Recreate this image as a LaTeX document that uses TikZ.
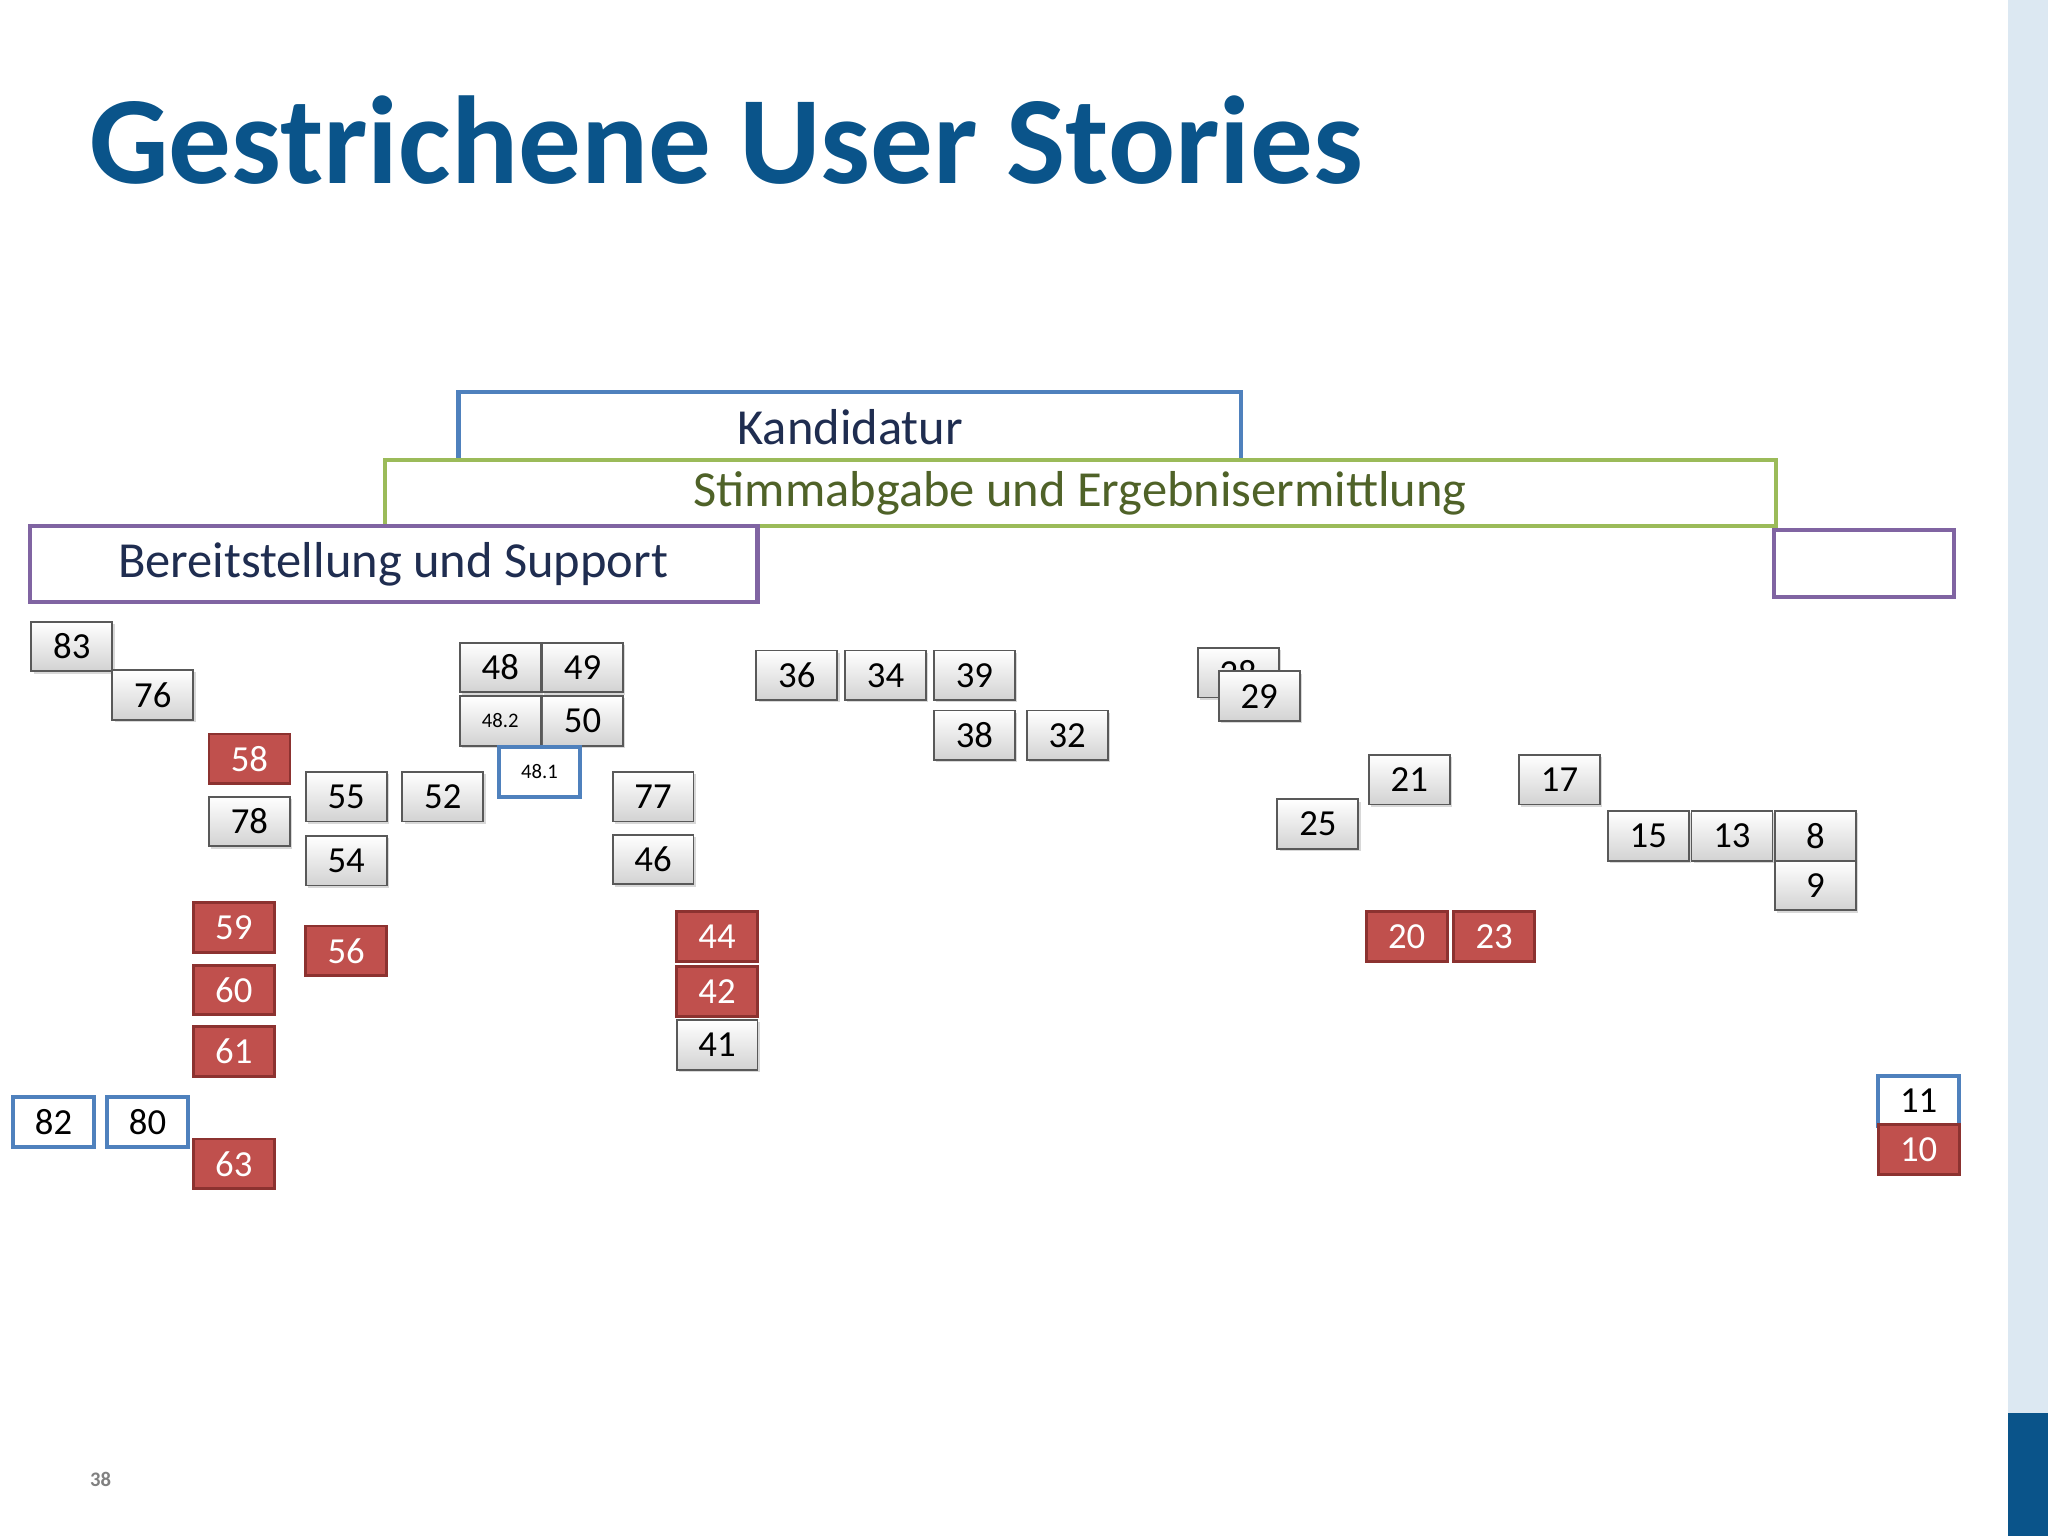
\documentclass[tikz,border=0pt]{standalone}
\usepackage{fontspec}
\setmainfont{Carlito}
\usetikzlibrary{shadows}
\definecolor{titleblue}{RGB}{10,84,138}
\definecolor{kblue}{RGB}{79,129,189}
\definecolor{sgreen}{RGB}{155,187,89}
\definecolor{stext}{RGB}{79,98,40}
\definecolor{bpurple}{RGB}{128,100,162}
\definecolor{btext}{RGB}{31,45,80}
\definecolor{sred}{RGB}{192,80,77}
\definecolor{sredd}{RGB}{140,50,48}
\definecolor{band}{RGB}{220,232,242}
\tikzset{
 card/.style={minimum width=1.24cm,minimum height=0.76cm,inner sep=0pt,font=\fontsize{16}{16}\selectfont,line width=0.8pt},
 gcard/.style={card,draw=gray!70!black,top color=white,bottom color=gray!35,drop shadow={opacity=0.3,shadow xshift=1pt,shadow yshift=-1pt}},
 rcard/.style={card,draw=sredd,fill=sred,text=white,line width=1.2pt},
 bcard/.style={card,draw=kblue,fill=white,line width=1.6pt},
 frame/.style={line width=1.8pt},
 ftext/.style={font=\fontsize{22}{22}\selectfont}
}
\begin{document}
\begin{tikzpicture}[x=0.02cm,y=-0.02cm]
\useasboundingbox (0,0) rectangle (1568,1176);
\fill[white] (0,0) rectangle (1568,1176);
\fill[band] (1537,0) rectangle (1568,1176);
\fill[titleblue] (1537,1082) rectangle (1568,1176);
\node[anchor=west,text=titleblue,font=\fontsize{54.5}{54.5}\selectfont\bfseries] (title) at (62,107) {Gestrichene User Stories};
\node[text=gray,font=\fontsize{9}{9}\selectfont\bfseries] (pg) at (77,1133) {38};
% frames
\draw[frame,kblue,fill=white] (351,352) -- (351,300) -- (950,300) -- (950,352);
\node[text=btext,ftext] (kand) at (651,327) {Kandidatur};
\draw[frame,sgreen,fill=white] (295,352) rectangle (1360,403);
\node[text=stext,ftext] (stimm) at (827,378) {Stimmabgabe und Ergebnisermittlung};
\draw[frame,bpurple,fill=white] (23,403) rectangle (580,461);
\node[text=btext,ftext] (bereit) at (301,432) {Bereitstellung und Support};
\draw[frame,bpurple] (1358,406) rectangle (1496,457);
% grey cards
\foreach \n/\x/\y in {83/55/495,76/117/532,78/191/629,55/265/610,54/265/659,52/339/610,48/383/511,49/446/511,50/446/552,77/500/610,46/500/658,36/610/517,34/678/517,39/746/517,38/746/563,32/817/563,28/948/515,25/1009/631,21/1079/597,17/1194/597,15/1262/640,13/1326/640,8/1390/640,9/1390/678,41/549/800}
  \node[gcard] (g\n) at (\x,\y) {\n};
\node[gcard] (g29) at (964,533) {29};
\node[gcard,font=\fontsize{9}{9}\selectfont] (g482) at (383,552) {48.2};
\node[bcard,font=\fontsize{9}{9}\selectfont] (b481) at (413,591) {48.1};
% red cards
\foreach \n/\x/\y in {58/191/581,59/179/710,60/179/758,61/179/805,56/265/728,44/549/717,42/549/759,20/1077/717,23/1144/717,63/179/891}
  \node[rcard] (r\n) at (\x,\y) {\n};
% blue cards
\foreach \n/\x/\y in {82/41/859,80/113/859,11/1469/843}
  \node[bcard] (b\n) at (\x,\y) {\n};
\node[rcard] (r10) at (1469,880) {10};
\end{tikzpicture}
\end{document}
